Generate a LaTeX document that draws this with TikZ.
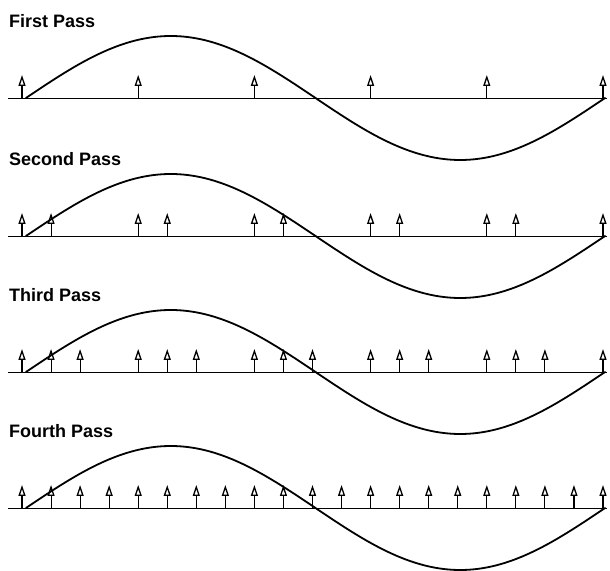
\documentclass[tikz,border=0pt]{standalone}
\usepackage{fontspec}
\setmainfont{Liberation Sans}
\usetikzlibrary{arrows.meta}
\tikzset{
  passtitle/.style={anchor=west, inner sep=0pt, font=\fontsize{18}{20}\selectfont\bfseries},
  axisline/.style={line width=0.9pt},
  wave/.style={line width=1.8pt, line cap=round},
  sample/.style={line width=1.1pt, -{Triangle[open, length=11pt, width=7pt, line width=1.3pt]}},
}
\begin{document}
\begin{tikzpicture}[x=1pt,y=1pt]
\useasboundingbox (0,0) rectangle (610,570);
% one panel per pass: axis height / title / samples kept out of every four
\foreach \ay/\lbl/\keep in {472/First Pass/1, 334/Second Pass/2, 198/Third Pass/3, 62/Fourth Pass/4} {
  \node[passtitle] (title\keep) at (9,\ay+77) {\lbl};
  \draw[axisline] (8,\ay) -- (607,\ay);
  \draw[wave] plot[domain=0:360, samples=120, smooth] ({26+1.60833*\x}, {\ay+62*sin(\x)});
  \foreach \i in {0,...,20} {
    \pgfmathtruncatemacro\r{mod(\i,4)}
    \ifnum\r<\keep \draw[sample] (22+29.05*\i,\ay) -- ++(0,23); \fi
  }
}
\end{tikzpicture}
\end{document}
